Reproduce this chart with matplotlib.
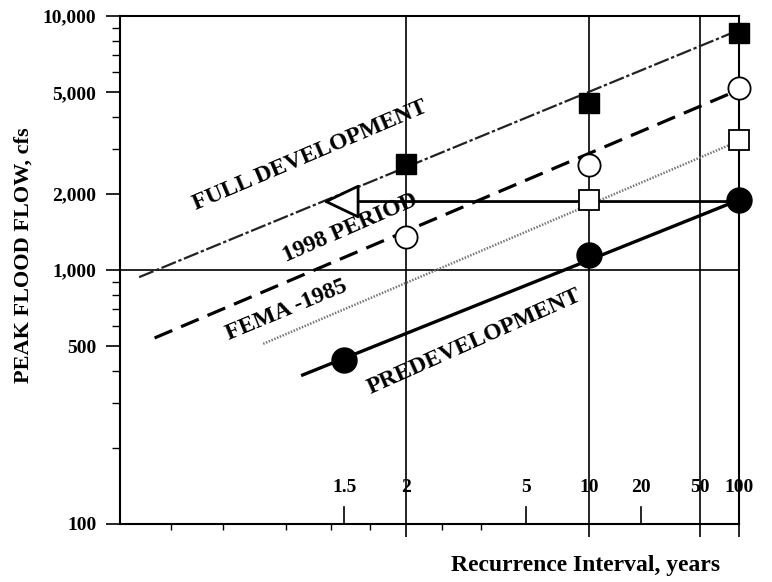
import numpy as np
import matplotlib
matplotlib.use("Agg")
import matplotlib.pyplot as plt
from matplotlib.ticker import FixedLocator, NullFormatter
from statistics import NormalDist

# recurrence interval (years) and peak flow (cfs)
full_T = [2, 10, 100]
full_Q = [2610, 4550, 8570]
p1998_T = [2, 10, 100]
p1998_Q = [1350, 2590, 5200]
fema_T = [10, 100]
fema_Q = [1890, 3250]
pre_T = [1.5, 10, 100]
pre_Q = [443, 1145, 1886]

# fitted frequency lines (end points)
full_line_T = [1.032, 100]
full_line_Q = [937, 8800]
p1998_line_T = [1.041, 100]
p1998_line_Q = [540, 5120]
fema_line_T = [1.189, 100]
fema_line_Q = [512, 3220]
pre_line_T = [1.307, 100]
pre_line_Q = [386, 1886]

# arrow: 100-yr predevelopment flow -> recurrence under full development
arrow_T = [100, 1.39]
arrow_Q = 1860

x_labels = [1.5, 2, 5, 10, 20, 50, 100]
x_grid = [2, 10, 50, 100]
x_inner_ticks = [1.5, 5, 20]
x_minor = [1 / 0.95, 1 / 0.9, 1 / 0.8, 1 / 0.7, 1 / 0.6, 1 / 0.4, 1 / 0.3]
y_ticks = [100, 500, 1000, 2000, 5000, 10000]
y_labels = ['100', '500', '1,000', '2,000', '5,000', '10,000']

nd = NormalDist()
_inv = np.vectorize(nd.inv_cdf, otypes=[float])
_cdf = np.vectorize(nd.cdf, otypes=[float])


def fwd(T):
    T = np.clip(np.asarray(T, float), 1.00001, 1e7)
    return _inv(1 - 1 / T)


def inv(z):
    z = np.clip(np.asarray(z, float), -6, 5)
    return 1 / (1 - _cdf(z))


SERIF = 'Liberation Serif'
plt.rcParams['font.family'] = SERIF
plt.rcParams['font.weight'] = 'bold'

fig = plt.figure(figsize=(7.72, 5.82), dpi=100)
ax = fig.add_axes([0.1554, 0.0997, 0.8016, 0.8728])

ax.set_xscale('function', functions=(fwd, inv))
ax.set_yscale('log')
ax.set_xlim(float(inv(-2.0)), 100)
ax.set_ylim(100, 10000)

# grid
for T in x_grid:
    ax.axvline(T, color='black', lw=1.2, zorder=1)
ax.axhline(1000, color='black', lw=1.2, zorder=1)

# lines
ax.plot(full_line_T, full_line_Q, color='#222222', lw=1.6, ls=(0, (7, 1.2, 1.5, 1.2)), zorder=2)
ax.plot(p1998_line_T, p1998_line_Q, color='black', lw=2.3, ls=(0, (6, 3)), zorder=2)
ax.plot(fema_line_T, fema_line_Q, color='#777777', lw=1.8, ls=(0, (0.6, 0.6)), zorder=2)
ax.plot(pre_line_T, pre_line_Q, color='black', lw=2.4, zorder=2)

# markers
ax.plot(full_T, full_Q, 's', color='black', ms=14, zorder=4, clip_on=False)
ax.plot(p1998_T, p1998_Q, 'o', mfc='white', mec='black', mew=1.3, ms=16, zorder=4, clip_on=False)
ax.plot(fema_T, fema_Q, 's', mfc='white', mec='black', mew=1.3, ms=14, zorder=4, clip_on=False)
ax.plot(pre_T, pre_Q, 'o', color='black', ms=18, zorder=4, clip_on=False)

# arrow
ax.annotate('', xy=(arrow_T[1], arrow_Q), xytext=(arrow_T[0], arrow_Q),
            arrowprops=dict(arrowstyle='-|>,head_length=1.15,head_width=0.55',
                            mutation_scale=20, fc='white', ec='black', lw=2.0,
                            shrinkA=0, shrinkB=0), zorder=3)

# curve labels
lab = dict(transform=ax.transAxes, fontsize=17, fontweight='bold', family=SERIF,
           ha='center', va='center', rotation_mode='anchor')
ax.text(0.307, 0.726, 'FULL DEVELOPMENT', rotation=23, **lab)
ax.text(0.372, 0.583, '1998 PERIOD', rotation=23.5, **lab)
ax.text(0.270, 0.421, 'FEMA -1985', rotation=22.5, **lab)
ax.text(0.572, 0.358, 'PREDEVELOPMENT', rotation=24, **lab)

# x ticks
ax.xaxis.set_major_locator(FixedLocator(x_grid))
ax.xaxis.set_minor_locator(FixedLocator(x_minor))
ax.xaxis.set_major_formatter(NullFormatter())
ax.xaxis.set_minor_formatter(NullFormatter())
ax.tick_params(axis='x', which='major', direction='out', length=9, width=1.2)
ax.tick_params(axis='x', which='minor', direction='out', length=4, width=1.0)
for T in x_inner_ticks:
    ax.plot([T, T], [0, 0.034], transform=ax.get_xaxis_transform(),
            color='black', lw=1.2, clip_on=False, zorder=3)
for T in x_labels:
    ax.text(T, 0.072, f'{T:g}', transform=ax.get_xaxis_transform(),
            ha='center', va='center', fontsize=14, fontweight='bold')

# y ticks
ax.yaxis.set_major_locator(FixedLocator(y_ticks))
ax.set_yticklabels(y_labels, fontsize=14, fontweight='bold')
ax.yaxis.set_minor_locator(FixedLocator([v * m for v in [100, 1000] for m in range(2, 10)]))
ax.yaxis.set_minor_formatter(NullFormatter())
ax.tick_params(axis='y', which='major', direction='out', length=10, width=1.2, pad=7)
ax.tick_params(axis='y', which='minor', direction='out', length=6, width=1.0)

for s in ax.spines.values():
    s.set_linewidth(1.5)

ax.set_ylabel('PEAK FLOOD FLOW, cfs', fontsize=16, fontweight='bold')
ax.yaxis.set_label_coords(-0.14, 0.53)
fig.text(0.758, 0.029, 'Recurrence Interval, years', ha='center', va='center',
         fontsize=17, fontweight='bold')

fig.savefig('out.png', dpi=100)
